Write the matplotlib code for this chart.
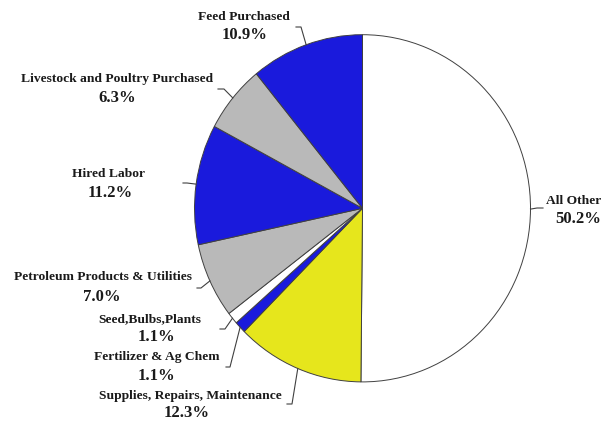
import matplotlib
matplotlib.use("Agg")
import matplotlib.pyplot as plt
import numpy as np

categories = ["All Other", "Supplies, Repairs, Maintenance", "Fertilizer & Ag Chem",
              "Seed,Bulbs,Plants", "Petroleum Products & Utilities", "Hired Labor",
              "Livestock and Poultry Purchased", "Feed Purchased"]
values = [50.2, 12.3, 1.1, 1.1, 7.0, 11.2, 6.3, 10.9]
pct_labels = ["50.2%", "12.3%", "1.1%", "1.1%", "7.0%", "11.2%", "6.3%", "10.9%"]

colors = ["#ffffff", "#e6e61c", "#1a1adc", "#ffffff", "#b9b9b9", "#1a1adc", "#b9b9b9", "#1a1adc"]

W, H = 613, 421
CX, CY, RX, RY = 362.5, 208.3, 168, 173.6

def P(x, y):
    return (x, H - y)

# layout: (name center, pct center, leader anchor points) in pixel coords
layout = [
    ((574, 201), (578, 219), [(543, 208), (537, 208)]),
    ((190, 396), (187, 413), [(287, 404), (292, 404)]),
    ((157, 357), (156, 376), [(226, 367), (230, 367)]),
    ((150, 319), (156, 337), [(220, 329), (225, 329)]),
    ((103, 277), (102, 297), [(197, 288), (201, 288)]),
    ((108, 174), (110, 193), [(183, 183), (187, 183)]),
    ((117, 79), (117, 98), [(218, 89), (224, 89)]),
    ((244, 17), (245, 35), [(296, 27), (301, 27)]),
]

fig = plt.figure(figsize=(W / 100, H / 100), dpi=100)
ax = fig.add_axes([0, 0, 1, 1])
ax.set_xlim(0, W)
ax.set_ylim(0, H)
ax.axis("off")

axp = fig.add_axes([(CX - RX) / W, (H - CY - RY) / H, 2 * RX / W, 2 * RY / H])
wedges, _ = axp.pie(values, colors=colors, startangle=90, counterclock=False,
                    radius=1, frame=True,
                    wedgeprops=dict(edgecolor="#404040", linewidth=0.7))
axp.set_xlim(-1, 1)
axp.set_ylim(-1, 1)
axp.set_aspect("auto")
axp.axis("off")
axp.set_zorder(0)
ax.set_zorder(1)
ax.patch.set_visible(False)

fig.canvas.draw()
to_main = ax.transData.inverted()

font = ["Liberation Serif", "DejaVu Serif"]
for w, name, pct, (npos, ppos, lead) in zip(wedges, categories, pct_labels, layout):
    ax.text(*P(*npos), name, ha="center", va="center", fontsize=9.7,
            fontweight="bold", family=font, color="#1a1a1a")
    ax.text(*P(*ppos), pct, ha="center", va="center", fontsize=12,
            fontweight="bold", family=font, color="#1a1a1a")
    if lead is not None:
        mid = np.deg2rad((w.theta1 + w.theta2) / 2)
        edge_disp = axp.transData.transform((np.cos(mid), np.sin(mid)))
        ex, ey = to_main.transform(edge_disp)
        pts = [P(*p) for p in lead] + [(ex, ey)]
        xs, ys = zip(*pts)
        ax.plot(xs, ys, color="#404040", lw=0.8)

fig.savefig("out.png", dpi=100)
